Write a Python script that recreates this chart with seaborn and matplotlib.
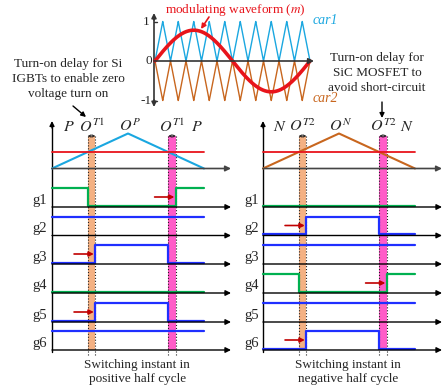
import numpy as np
import matplotlib
matplotlib.use("Agg")
import matplotlib.pyplot as plt
import seaborn as sns

sns.set_theme(style="white")
plt.rcParams['font.family'] = ['Liberation Serif', 'DejaVu Serif']
plt.rcParams['mathtext.fontset'] = 'stix'

# ---- waveform parameters -------------------------------------------------
mod_index = 0.78        # amplitude of the modulating waveform
carrier_cycles = 10     # carrier periods per fundamental period
ref_level = 0.47        # modulating value seen inside one carrier period
delay = 0.05            # turn-on delay (fraction of a carrier period)

# ---- gate states: level before / between / after the two switching instants
gate_names = ['g1', 'g2', 'g3', 'g4', 'g5', 'g6']
gate_colors = ['#00B050', '#1F2FFF', '#1F2FFF', '#00B050', '#1F2FFF', '#1F2FFF']
pos_levels = [[1, 0, 1], [1, 1, 1], [0, 1, 0], [0, 0, 0], [0, 1, 0], [1, 1, 1]]
neg_levels = [[0, 0, 0], [0, 1, 0], [1, 1, 1], [1, 0, 1], [1, 1, 1], [0, 1, 0]]
pos_marks = ['$P$', '$O^{T1}$', '$O^{P}$', '$O^{T1}$', '$P$']
neg_marks = ['$N$', '$O^{T2}$', '$O^{N}$', '$O^{T2}$', '$N$']
mark_pos = [0.11, 0.26, 0.51, 0.79, 0.95]

BLUE_CAR = '#1AA7E0'
ORANGE_CAR = '#C8661E'
RED = '#E8141B'
DARK_RED = '#C00000'
BAND1 = '#F4B183'
BAND2 = '#FF5CC8'

fig = plt.figure(figsize=(4.44, 3.92), dpi=100)
ax = fig.add_axes([0, 0, 1, 1])


def arrow(x0, y0, x1, y1, color='black', lw=1.0, ms=8, style='-|>'):
    ax.annotate('', xy=(x1, y1), xytext=(x0, y0),
                arrowprops=dict(arrowstyle=style, color=color, lw=lw,
                                mutation_scale=ms, shrinkA=0, shrinkB=0),
                zorder=6)


def line(xs, ys, color, lw, z=3, ls='-'):
    sns.lineplot(x=np.asarray(xs, float), y=np.asarray(ys, float), ax=ax,
                 color=color, lw=lw, estimator=None, sort=False,
                 zorder=z, linestyle=ls)


# ---- top inset: carriers and modulating waveform --------------------------
ix0, ix1, iy0, isc = 155, 310, 61, 39.5
phase = np.linspace(0, 1, 3001)
xi = ix0 + phase * (ix1 - ix0)
car1 = 1 - np.abs(2 * ((phase * carrier_cycles) % 1) - 1)
car2 = -car1
mwave = mod_index * np.sin(2 * np.pi * phase)
line(xi, iy0 - car1 * isc, BLUE_CAR, 1.0)
line(xi, iy0 - car2 * isc, ORANGE_CAR, 1.0)
line(xi, iy0 - mwave * isc, RED, 2.6, z=4)
line([154, 154], [iy0, 104], '#333333', 1.2)
line([154, 154], [iy0, 18], '#333333', 1.2)
arrow(154, 100, 154, 107, '#333333', 1.2, 7)
arrow(154, 20, 154, 13, '#333333', 1.2, 7)
arrow(154, iy0, 314, iy0, '#333333', 1.2, 8)
line([154, 157], [iy0 - isc, iy0 - isc], '#333333', 1.0)
line([154, 157], [iy0 + isc, iy0 + isc], '#333333', 1.0)
ax.text(150, iy0 - isc, '1', ha='right', va='center', fontsize=9.5)
ax.text(152, iy0, '0', ha='right', va='center', fontsize=9.5)
ax.text(152, iy0 + isc, '-1', ha='right', va='center', fontsize=9.5)
ax.text(235, 10, 'modulating waveform ($m$)', color=RED, ha='center',
        va='center', fontsize=9.5)
arrow(209, 17, 201, 29, RED, 1.2, 7)
ax.text(313, 20, 'car1', color=BLUE_CAR, style='italic', ha='left',
        va='center', fontsize=10)
ax.text(313, 98, 'car2', color=ORANGE_CAR, style='italic', ha='left',
        va='center', fontsize=10)

# ---- switching diagrams --------------------------------------------------
pw = 152                     # width of one half carrier period
car_axis, car_h = 168.5, 35
gate_axes = [207, 235.5, 264, 293, 322, 350]
hi = 19
band_top, band_bot = 136, 350
t1 = ref_level / 2
t2 = 1 - ref_level / 2

panels = [
    dict(x0=52, color=BLUE_CAR, levels=pos_levels, marks=pos_marks,
         caption='Switching instant in\npositive half cycle', lab_x=40),
    dict(x0=263, color=ORANGE_CAR, levels=neg_levels, marks=neg_marks,
         caption='Switching instant in\nnegative half cycle', lab_x=252),
]

for p in panels:
    x0 = p['x0']
    X = lambda t: x0 + t * pw
    # delay windows
    for (ta, tb), col in (((t1, t1 + delay), BAND1), ((t2, t2 + delay), BAND2)):
        ax.fill_between([X(ta), X(tb)], band_top, band_bot, color=col,
                        lw=0, zorder=1)
        for xe in (X(ta), X(tb)):
            line([xe, xe], [band_top, 356], '#222222', 0.8, z=2, ls=':')
        arrow(X(ta), band_top, X(tb), band_top, '#222222', 0.7, 4, '<->')
    # axes
    line([x0, x0], [352, 126], 'black', 1.0)
    arrow(x0, 128, x0, 121, 'black', 1.0, 7)
    arrow(x0, car_axis, x0 + 179, car_axis, '#444444', 1.2, 8)
    for ya in gate_axes:
        arrow(x0, ya, x0 + 179, ya, 'black', 1.0, 8)
    # carrier and reference
    tc = np.array([0, 0.5, 1])
    line(X(tc), car_axis - np.array([0, 1, 0]) * car_h, p['color'], 1.5)
    line([X(0), X(1)], [car_axis - ref_level * car_h] * 2, RED, 1.3)
    for lab, tm in zip(p['marks'], mark_pos):
        ax.text(X(tm), 127, lab, ha='center', va='center', fontsize=11.5)
    # gate signals
    for name, col, lv, ya in zip(gate_names, gate_colors, p['levels'], gate_axes):
        e1 = t1 + (delay if lv[1] > lv[0] else 0)
        e2 = t2 + (delay if lv[2] > lv[1] else 0)
        ts = [0, e1, e1, e2, e2, 1]
        vs = [lv[0], lv[0], lv[1], lv[1], lv[2], lv[2]]
        ys = [ya - (hi if v else 1.5) for v in vs]
        line(X(np.array(ts)), ys, col, 1.6, z=4)
        for e, a, b in ((e1, lv[0], lv[1]), (e2, lv[1], lv[2])):
            if b > a:
                arrow(X(e - 0.14), ya - 10, X(e) - 1.5, ya - 10, DARK_RED, 1.2, 7)
        ax.text(p['lab_x'], ya - 7, name, ha='center', va='center', fontsize=10.5)
    ax.text(X(0.56), 372, p['caption'], ha='center', va='center',
            fontsize=9.5, linespacing=1.3)

# ---- notes on turn-on delays ---------------------------------------------
ax.text(68, 79, 'Turn-on delay for Si\nIGBTs to enable zero\nvoltage turn on',
        ha='center', va='center', fontsize=9.5, linespacing=1.3)
arrow(73, 106, 86, 117, 'black', 1.0, 7)
ax.text(377, 73, 'Turn-on delay for\nSiC MOSFET to\navoid short-circuit',
        ha='center', va='center', fontsize=9.5, linespacing=1.3)
arrow(382, 102, 382, 118, 'black', 1.0, 7)

ax.set_xlim(0, 444)
ax.set_ylim(392, 0)
ax.axis('off')
fig.savefig('out.png', dpi=100)
